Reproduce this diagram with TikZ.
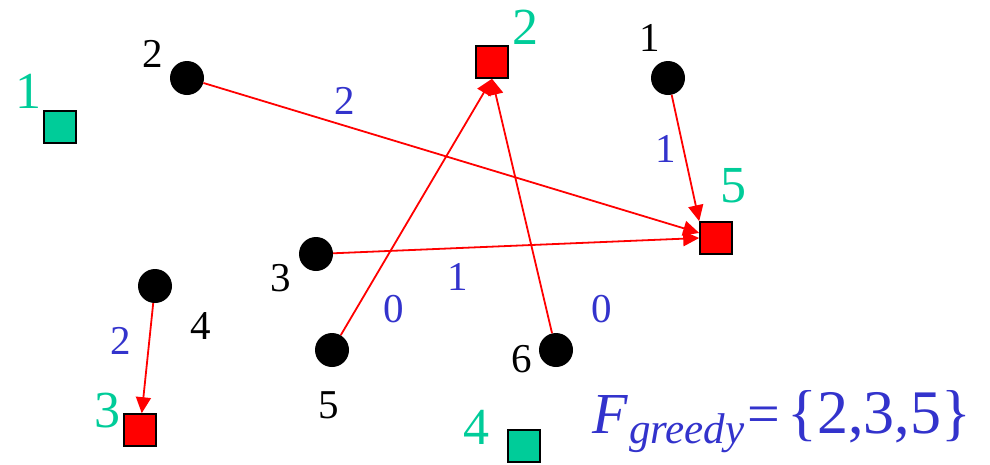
\documentclass[tikz,border=0pt]{standalone}
\usepackage{fontspec}
\setmainfont{Liberation Serif}
\usetikzlibrary{arrows.meta}
\definecolor{lblue}{RGB}{51,51,204}
\definecolor{lgreen}{RGB}{0,204,153}
\tikzset{
  cli/.style={circle,fill=black,minimum size=34pt,inner sep=0pt},
  fac/.style={rectangle,draw=black,line width=1.6pt,minimum size=32pt,inner sep=0pt},
  open/.style={fac,fill=lgreen},
  opened/.style={fac,fill=red},
  blk/.style={font=\fontsize{41}{41}\selectfont,text=black,inner sep=0pt},
  grn/.style={font=\fontsize{52}{52}\selectfont,text=lgreen,inner sep=0pt},
  cost/.style={font=\fontsize{41}{41}\selectfont,text=lblue,inner sep=0pt},
  asg/.style={draw=red,line width=1.8pt,-{Triangle[length=16pt,width=15pt]}},
}
\begin{document}
\begin{tikzpicture}[x=1pt,y=-1pt]
\useasboundingbox (0,0) rectangle (990,464);
% clients
\node[cli] (c1) at (668,78) {};
\node[cli] (c2) at (187,78) {};
\node[cli] (c3) at (316,254) {};
\node[cli] (c4) at (155,286) {};
\node[cli] (c5) at (332,350) {};
\node[cli] (c6) at (556,350) {};
% facilities
\node[open] (f1) at (60,127) {};
\node[opened] (f2) at (492,62) {};
\node[opened] (f3) at (140,430) {};
\node[open] (f4) at (524,446) {};
\node[opened] (f5) at (716,238) {};
% client labels
\node[blk] (l1) at (650,38) {1};
\node[blk] (l2) at (153,54) {2};
\node[blk] (l3) at (281,278) {3};
\node[blk] (l4) at (201,326) {4};
\node[blk] (l5) at (329,405) {5};
\node[blk] (l6) at (522,359) {6};
% facility labels
\node[grn] (g1) at (29,91) {1};
\node[grn] (g2) at (525,27) {2};
\node[grn] (g3) at (107,411) {3};
\node[grn] (g4) at (476,427) {4};
\node[grn] (g5) at (733,186) {5};
% assignments
\draw[asg] (c1) -- (f5.north west);
\draw[asg] (c2) -- (f5);
\draw[asg] (c3) -- (f5.west);
\draw[asg] (c4) -- (f3);
\draw[asg] (c5) -- (f2.south);
\draw[asg] (c6) -- (f2.south);
% costs
\node[cost] (k2) at (345,101) {2};
\node[cost] (k1) at (666,149) {1};
\node[cost] (k4) at (121,341) {2};
\node[cost] (k3) at (458,277) {1};
\node[cost] (k5) at (394,309) {0};
\node[cost] (k6) at (602,309) {0};
% result
\node[anchor=base west,inner sep=0pt,text=lblue,font=\fontsize{58}{58}\selectfont] (res) at (592,433)
  {\textit{F}\kern1pt\raisebox{-10pt}{\fontsize{43}{43}\selectfont\textit{greedy}}\kern3pt=\kern7pt{\fontsize{62}{62}\selectfont\{2,3,5\}}};
\end{tikzpicture}
\end{document}
